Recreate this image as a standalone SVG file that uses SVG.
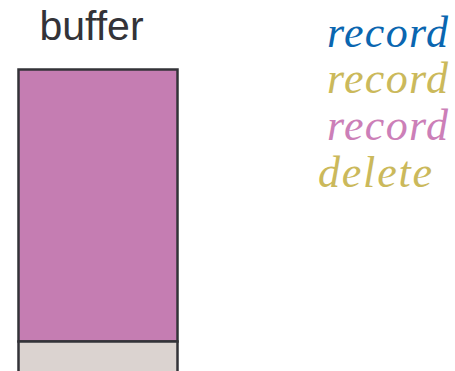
<svg xmlns="http://www.w3.org/2000/svg" width="455" height="371" viewBox="0 0 455 371">
<style>
.lbl{font-family:"Liberation Sans",Arial,sans-serif;font-size:41px;fill:#333338}
.it{font-family:"Liberation Serif","Times New Roman",serif;font-style:italic;font-size:44px}
.cell{stroke:#333338;stroke-width:2.5}
</style>
<rect width="455" height="371" fill="#fff"/>
<g id="buffer">
<text class="lbl" x="91.5" y="40" text-anchor="middle">buffer</text>
<rect class="cell" x="18.5" y="69.5" width="159" height="272" fill="#c57db2"/>
<rect class="cell" x="18.5" y="341.5" width="159" height="40" fill="#dbd3d0"/>
</g>
<g id="ops">
<text class="it" x="327" y="47" textLength="121" fill="#0a66b0">record</text>
<text class="it" x="327" y="93" textLength="121" fill="#cbb95b">record</text>
<text class="it" x="327" y="140" textLength="121" fill="#cc7fb8">record</text>
<text class="it" x="318" y="187" textLength="114" fill="#cbb95b">delete</text>
</g>
</svg>
